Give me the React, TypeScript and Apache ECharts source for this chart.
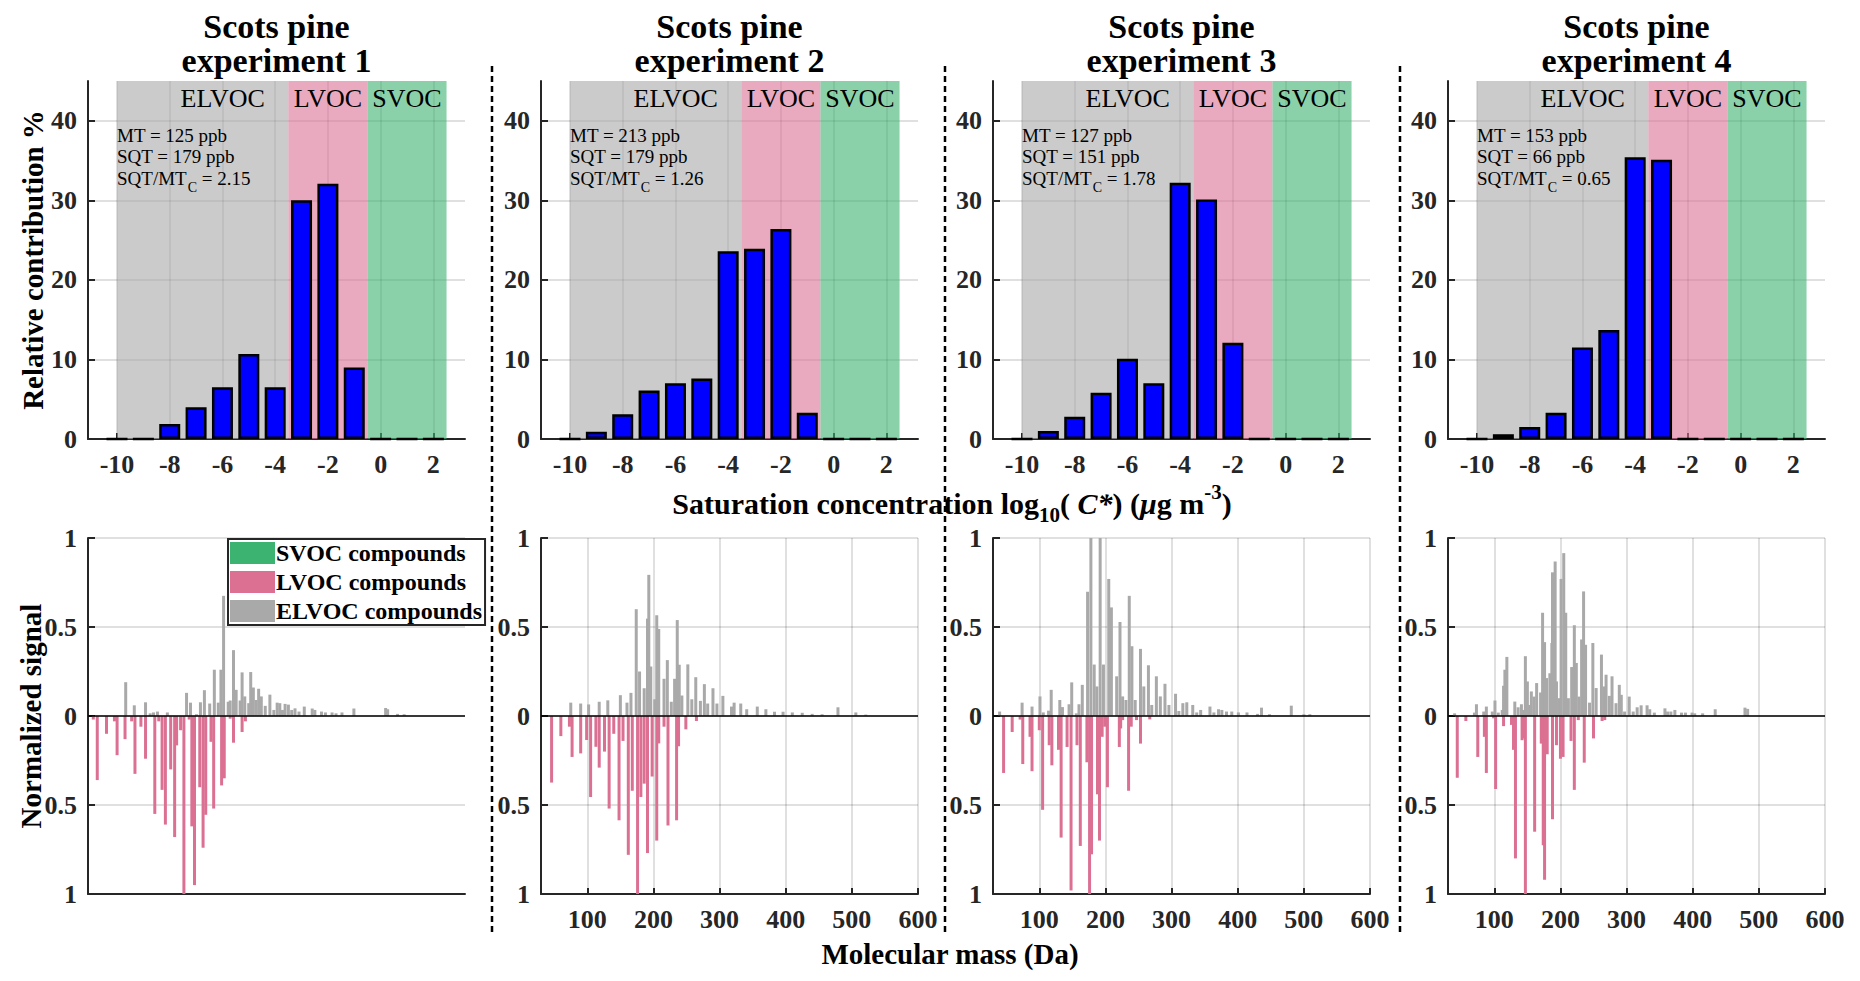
import { useEffect, useRef } from 'react';
import * as echarts from 'echarts';

const FONT = 'Liberation Serif';
const INK = '#262626';

// saturation concentration bins, log10(C*)
const logC = [-10, -9, -8, -7, -6, -5, -4, -3, -2, -1, 0, 1, 2];
const contrib1 = [0, 0, 1.9, 4, 6.5, 10.7, 6.5, 30, 32.1, 9, 0, 0, 0];
const contrib2 = [0, 0.9, 3.1, 6.1, 7, 7.6, 23.6, 23.9, 26.4, 3.3, 0, 0, 0];
const contrib3 = [0, 1, 2.8, 5.8, 10.1, 7, 32.2, 30.1, 12.1, 0, 0, 0, 0];
const contrib4 = [0, 0.6, 1.5, 3.3, 11.5, 13.7, 35.4, 35.1, 0, 0, 0, 0, 0];
const contribs = [contrib1, contrib2, contrib3, contrib4];

const mtLabels = ['MT = 125 ppb', 'MT = 213 ppb', 'MT = 127 ppb', 'MT = 153 ppb'];
const sqtLabels = ['SQT = 179 ppb', 'SQT = 179 ppb', 'SQT = 151 ppb', 'SQT = 66 ppb'];
const ratioLabels = ['2.15', '1.26', '1.78', '0.65'];

// volatility regions [from, to, name, colour]
const regions: [number, number, string, string][] = [
  [-10, -3.5, 'ELVOC', 'rgba(169,169,169,0.6)'],
  [-3.5, -0.5, 'LVOC', 'rgba(219,112,147,0.6)'],
  [-0.5, 2.5, 'SVOC', 'rgba(60,179,113,0.6)'],
];

// mass spectra: [mass (Da), normalized signal]
const elvoc1 = [[87,0.19],[100,0.06],[117,0.077],[124,0.015],[129,0.02],[135,0.025],[150,0.02],[179,0.13],[185,0.075],[194,0.01],[200,0.077],[206,0.145],[214,0.07],[221,0.26],[227,0.075],[231,0.26],[235,0.675],[242,0.08],[245,0.087],[250,0.37],[254,0.147],[260,0.087],[263,0.245],[267,0.11],[273,0.072],[276,0.247],[280,0.16],[284,0.09],[288,0.153],[292,0.11],[298,0.057],[305,0.12],[311,0.034],[316,0.075],[320,0.072],[324,0.034],[328,0.068],[333,0.064],[338,0.034],[343,0.043],[349,0.025],[357,0.053],[369,0.042],[373,0.034],[383,0.025],[389,0.02],[399,0.02],[405,0.015],[414,0.02],[432,0.042],[480,0.045],[483,0.038],[498,0.012],[508,0.01]];
const lvoc1 = [[38,-0.02],[44,-0.36],[58,-0.1],[70,-0.03],[74,-0.22],[86,-0.13],[96,-0.03],[101,-0.325],[110,-0.06],[117,-0.24],[131,-0.55],[137,-0.03],[142,-0.415],[147,-0.61],[155,-0.3],[161,-0.68],[164,-0.165],[170,-0.08],[175,-1],[183,-0.02],[187,-0.62],[191,-0.95],[199,-0.4],[204,-0.74],[208,-0.555],[216,-0.145],[220,-0.52],[232,-0.39],[236,-0.35],[245,-0.015],[250,-0.15],[263,-0.09],[268,-0.03]];
const elvoc2 = [[75,0.075],[90,0.07],[102,0.065],[118,0.08],[131,0.088],[150,0.117],[160,0.075],[166,0.13],[174,0.6],[179,0.25],[186,0.156],[191,0.547],[193,0.793],[196,0.278],[202,0.094],[205,0.566],[208,0.489],[216,0.209],[221,0.314],[227,0.08],[232,0.209],[236,0.539],[239,0.288],[243,0.115],[252,0.29],[258,0.094],[264,0.218],[271,0.085],[277,0.179],[282,0.07],[290,0.156],[296,0.07],[305,0.113],[318,0.053],[322,0.075],[332,0.07],[341,0.038],[357,0.053],[370,0.038],[383,0.024],[396,0.024],[410,0.02],[425,0.018],[440,0.012],[455,0.01],[479,0.049],[506,0.02],[521,0.008]];
const lvoc2 = [[46,-0.374],[60,-0.113],[73,-0.06],[77,-0.23],[90,-0.21],[99,-0.135],[105,-0.455],[113,-0.173],[118,-0.29],[126,-0.2],[133,-0.52],[140,-0.1],[148,-0.586],[154,-0.14],[162,-0.78],[168,-0.42],[176,-1],[181,-0.455],[186,-0.38],[191,-0.77],[198,-0.34],[205,-0.7],[208,-0.154],[216,-0.06],[222,-0.615],[235,-0.586],[238,-0.17],[249,-0.075],[265,-0.028]];
const elvoc3 = [[40,0.025],[74,0.075],[89,0.053],[101,0.11],[106,0.02],[114,0.03],[118,0.147],[131,0.09],[135,0.05],[145,0.066],[149,0.189],[156,0.015],[160,0.066],[165,0.175],[173,0.698],[178,1],[183,0.289],[187,0.166],[192,1],[197,0.289],[205,0.77],[209,0.61],[217,0.223],[222,0.528],[226,0.11],[231,0.09],[236,0.675],[240,0.392],[245,0.09],[253,0.377],[258,0.166],[265,0.285],[270,0.062],[277,0.223],[283,0.11],[290,0.181],[296,0.062],[306,0.125],[311,0.028],[317,0.072],[323,0.077],[332,0.062],[338,0.02],[344,0.034],[358,0.053],[364,0.02],[371,0.038],[376,0.034],[383,0.025],[391,0.025],[401,0.02],[414,0.02],[430,0.012],[436,0.047],[448,0.01],[481,0.058],[500,0.01],[509,0.01]];
const lvoc3 = [[46,-0.32],[59,-0.09],[71,-0.02],[75,-0.27],[86,-0.117],[89,-0.31],[100,-0.08],[105,-0.527],[115,-0.164],[119,-0.277],[129,-0.19],[133,-0.683],[142,-0.174],[148,-0.98],[157,-0.164],[162,-0.73],[172,-0.26],[176,-1],[179,-0.777],[188,-0.44],[191,-0.7],[195,-0.117],[199,-0.06],[203,-0.4],[221,-0.174],[223,-0.07],[226,-0.023],[235,-0.42],[239,-0.06],[247,-0.023],[253,-0.155],[267,-0.019]];
const elvoc4 = [[40,0.015],[70,0.019],[73,0.066],[84,0.025],[88,0.053],[97,0.025],[101,0.087],[106,0.019],[112,0.034],[114,0.17],[116,0.26],[119,0.332],[131,0.081],[136,0.049],[141,0.066],[144,0.034],[147,0.336],[150,0.194],[153,0.062],[156,0.138],[160,0.109],[164,0.185],[170,0.132],[173,0.58],[176,0.415],[179,0.213],[184,0.24],[187,0.41],[188,0.807],[192,0.868],[194,0.194],[198,0.1],[201,0.77],[205,0.915],[208,0.58],[212,0.1],[217,0.275],[221,0.51],[224,0.298],[228,0.109],[232,0.43],[235,0.7],[238,0.4],[244,0.075],[249,0.41],[254,0.157],[262,0.345],[266,0.166],[269,0.232],[274,0.113],[278,0.223],[284,0.072],[289,0.175],[292,0.119],[297,0.025],[304,0.109],[310,0.025],[316,0.049],[322,0.06],[331,0.06],[335,0.038],[342,0.019],[358,0.043],[362,0.025],[367,0.025],[373,0.034],[383,0.019],[389,0.019],[399,0.019],[403,0.015],[415,0.015],[434,0.038],[479,0.047],[483,0.04]];
const lvoc4 = [[44,-0.347],[57,-0.028],[75,-0.23],[85,-0.117],[88,-0.32],[99,-0.013],[102,-0.41],[114,-0.057],[126,-0.05],[129,-0.19],[132,-0.8],[142,-0.136],[143,-0.126],[147,-1],[161,-0.65],[171,-0.155],[174,-0.726],[176,-0.92],[180,-0.215],[188,-0.58],[194,-0.164],[200,-0.24],[204,-0.23],[216,-0.14],[221,-0.415],[227,-0.023],[236,-0.262],[250,-0.126],[263,-0.028],[267,-0.023]];
const elvocs = [elvoc1, elvoc2, elvoc3, elvoc4];
const lvocs = [lvoc1, lvoc2, lvoc3, lvoc4];

const logTicks = [-10, -8, -6, -4, -2, 0, 2];
const pctTicks = [0, 10, 20, 30, 40];
const massTicks = [100, 200, 300, 400, 500, 600];

// layout (px)
const lefts = [88, 541, 993, 1448];
const W = 377;
const TOP1 = 81, H1 = 358;
const TOP2 = 538, H2 = 356;
const X1MIN = -11.1, X1MAX = 3.2;
const dividers = [492, 945, 1400];

const tickFont = { fontFamily: FONT, fontSize: 26, fontWeight: 'bold' as const, color: INK };
const gridLine = { show: true, lineStyle: { color: 'rgba(0,0,0,0.12)', width: 2 } };
const axisInk = { color: INK, width: 2 };

const App = () => {
  const chartRef = useRef<HTMLDivElement | null>(null);

  useEffect(() => {
    if (!chartRef.current) return;
    const myChart = echarts.init(chartRef.current, null, { renderer: 'svg' });

    const grids: any[] = [];
    const xAxes: any[] = [];
    const yAxes: any[] = [];
    const series: any[] = [];
    const graphic: any[] = [];

    lefts.forEach((left, i) => {
      grids.push({ left, top: TOP1, width: W, height: H1 });
      xAxes.push({
        type: 'value', gridIndex: i, min: X1MIN, max: X1MAX,
        axisLine: { onZero: false, lineStyle: axisInk },
        axisTick: { inside: true, length: 6, customValues: logTicks, lineStyle: axisInk },
        axisLabel: { customValues: logTicks, margin: 12, ...tickFont },
        splitLine: gridLine,
      });
      yAxes.push({
        type: 'value', gridIndex: i, min: 0, max: 45,
        axisLine: { show: true, onZero: false, lineStyle: axisInk },
        axisTick: { show: true, inside: true, length: 7, customValues: pctTicks, lineStyle: axisInk },
        axisLabel: { customValues: pctTicks, margin: 11, ...tickFont },
        splitLine: gridLine,
      });
    });

    lefts.forEach((left, i) => {
      grids.push({ left, top: TOP2, width: W, height: H2 });
      xAxes.push({
        type: 'value', gridIndex: 4 + i, min: 30, max: 600,
        axisLine: { onZero: false, lineStyle: axisInk },
        axisTick: { show: i > 0, inside: true, length: 6, customValues: massTicks, lineStyle: axisInk },
        axisLabel: { show: i > 0, customValues: massTicks, margin: 12, ...tickFont },
        splitLine: { ...gridLine, show: i > 0 },
      });
      yAxes.push({
        type: 'value', gridIndex: 4 + i, min: -1, max: 1, interval: 0.5,
        axisLine: { show: true, onZero: false, lineStyle: axisInk },
        axisTick: { show: true, inside: true, length: 7, lineStyle: axisInk },
        axisLabel: { margin: 11, ...tickFont, formatter: (v: number) => String(Math.abs(v)) },
        splitLine: gridLine,
      });
    });

    lefts.forEach((left, i) => {
      // shaded volatility regions
      series.push({
        type: 'line', xAxisIndex: i, yAxisIndex: i, data: [], z: 1, silent: true,
        markArea: {
          silent: true,
          label: { show: true, position: 'insideTop', distance: 4, fontFamily: FONT, fontSize: 26, color: '#000' },
          data: regions.map(([a, b, name, color]) => [
            { xAxis: a, yAxis: 0, name, itemStyle: { color }, label: name === 'ELVOC' ? { offset: [20, 0] } : {} },
            { xAxis: b, yAxis: 45 },
          ]),
        },
      });
      series.push({
        type: 'bar', name: 'Relative contribution', xAxisIndex: i, yAxisIndex: i, z: 3,
        barWidth: 21,
        data: logC.map((x, k) => [x, contribs[i][k]]),
        itemStyle: { color: '#0000FF', borderColor: '#000', borderWidth: 2.5 },
      });

      series.push({
        type: 'bar', name: 'ELVOC compounds', xAxisIndex: 4 + i, yAxisIndex: 4 + i,
        barWidth: 3, barGap: '-100%', data: elvocs[i], itemStyle: { color: '#A9A9A9' },
      });
      series.push({
        type: 'bar', name: 'LVOC compounds', xAxisIndex: 4 + i, yAxisIndex: 4 + i,
        barWidth: 3, barGap: '-100%', data: lvocs[i], itemStyle: { color: '#DB7093' },
        markLine: {
          silent: true, symbol: 'none', label: { show: false },
          lineStyle: { color: '#000', width: 1.5, type: 'solid' },
          data: [{ yAxis: 0 }],
        },
      });

      // annotations
      const ax = left + ((-10 - X1MIN) / (X1MAX - X1MIN)) * W;
      const annFont = { fontFamily: FONT, fontSize: 19, fill: '#000' };
      graphic.push({ type: 'text', x: ax, y: 135, z: 10, style: { text: mtLabels[i], ...annFont, textVerticalAlign: 'middle', verticalAlign: 'middle' } });
      graphic.push({ type: 'text', x: ax, y: 156, z: 10, style: { text: sqtLabels[i], ...annFont, textVerticalAlign: 'middle', verticalAlign: 'middle' } });
      graphic.push({
        type: 'text', x: ax, y: 178, z: 10,
        style: {
          text: `SQT/MT{sub|C} = ${ratioLabels[i]}`, ...annFont, textVerticalAlign: 'middle', verticalAlign: 'middle',
          rich: { sub: { fontFamily: FONT, fontSize: 14, padding: [18, 0, 0, 1] } },
        },
      });

      // titles
      graphic.push({
        type: 'text', x: left + W / 2, y: 9, z: 10,
        style: {
          text: `Scots pine\nexperiment ${i + 1}`, fontFamily: FONT, fontSize: 34, fontWeight: 'bold', fill: '#000',
          lineHeight: 34, textAlign: 'center', align: 'center', textVerticalAlign: 'top', verticalAlign: 'top',
        },
      });
    });

    series.push({
      type: 'bar', name: 'SVOC compounds', xAxisIndex: 4, yAxisIndex: 4,
      barWidth: 3, barGap: '-100%', data: [], itemStyle: { color: '#3CB371' },
    });

    const nameFont = { fontFamily: FONT, fontSize: 29, fontWeight: 'bold', fill: '#000' };
    const centred = { textAlign: 'center', align: 'center', textVerticalAlign: 'middle', verticalAlign: 'middle' };
    graphic.push({
      type: 'text', x: 33, y: TOP1 + H1 / 2, rotation: Math.PI / 2,
      style: { text: 'Relative contribution %', ...nameFont, ...centred },
    });
    graphic.push({
      type: 'text', x: 31, y: TOP2 + H2 / 2, rotation: Math.PI / 2,
      style: { text: 'Normalized signal', ...nameFont, ...centred },
    });
    const bfont = { fontFamily: FONT, fontWeight: 'bold' };
    graphic.push({
      type: 'text', x: 952, y: 503,
      style: {
        text: 'Saturation concentration log{sub|10}( {it|C*}) ({mu|\u03bc}g m{sup|-3})',
        ...nameFont, fontSize: 30, ...centred,
        rich: {
          sub: { ...bfont, fontSize: 21, padding: [24, 0, 0, 0] },
          sup: { ...bfont, fontSize: 21, padding: [0, 0, 22, 0] },
          it: { ...bfont, fontSize: 30, fontStyle: 'italic' },
          mu: { ...bfont, fontSize: 30, fontStyle: 'italic' },
        },
      },
    });
    graphic.push({
      type: 'text', x: 950, y: 954,
      style: { text: 'Molecular mass (Da)', ...nameFont, ...centred },
    });
    dividers.forEach((x) => {
      graphic.push({
        type: 'line', shape: { x1: x, y1: 66, x2: x, y2: 936 },
        style: { stroke: '#000', lineWidth: 2.5, lineDash: [6, 4] },
      });
    });

    const option = {
      animation: false,
      backgroundColor: '#fff',
      grid: grids,
      xAxis: xAxes,
      yAxis: yAxes,
      legend: {
        data: ['SVOC compounds', 'LVOC compounds', 'ELVOC compounds'],
        orient: 'vertical', left: 228, top: 539,
        itemWidth: 45, itemHeight: 22, itemGap: 5,
        padding: [2, 3, 2, 2],
        icon: 'rect', selectedMode: false,
        borderColor: INK, borderWidth: 2, backgroundColor: '#fff',
        textStyle: { fontFamily: FONT, fontSize: 24, fontWeight: 'bold', color: '#000', padding: [0, 0, 0, -4] },
      },
      series,
      graphic,
    };

    myChart.setOption(option);

    return () => {
      myChart.dispose();
    };
  }, []);

  return <div ref={chartRef} style={{ position: 'fixed', left: 0, top: 0, width: '1860px', height: '981px' }} />;
};

export default App;
